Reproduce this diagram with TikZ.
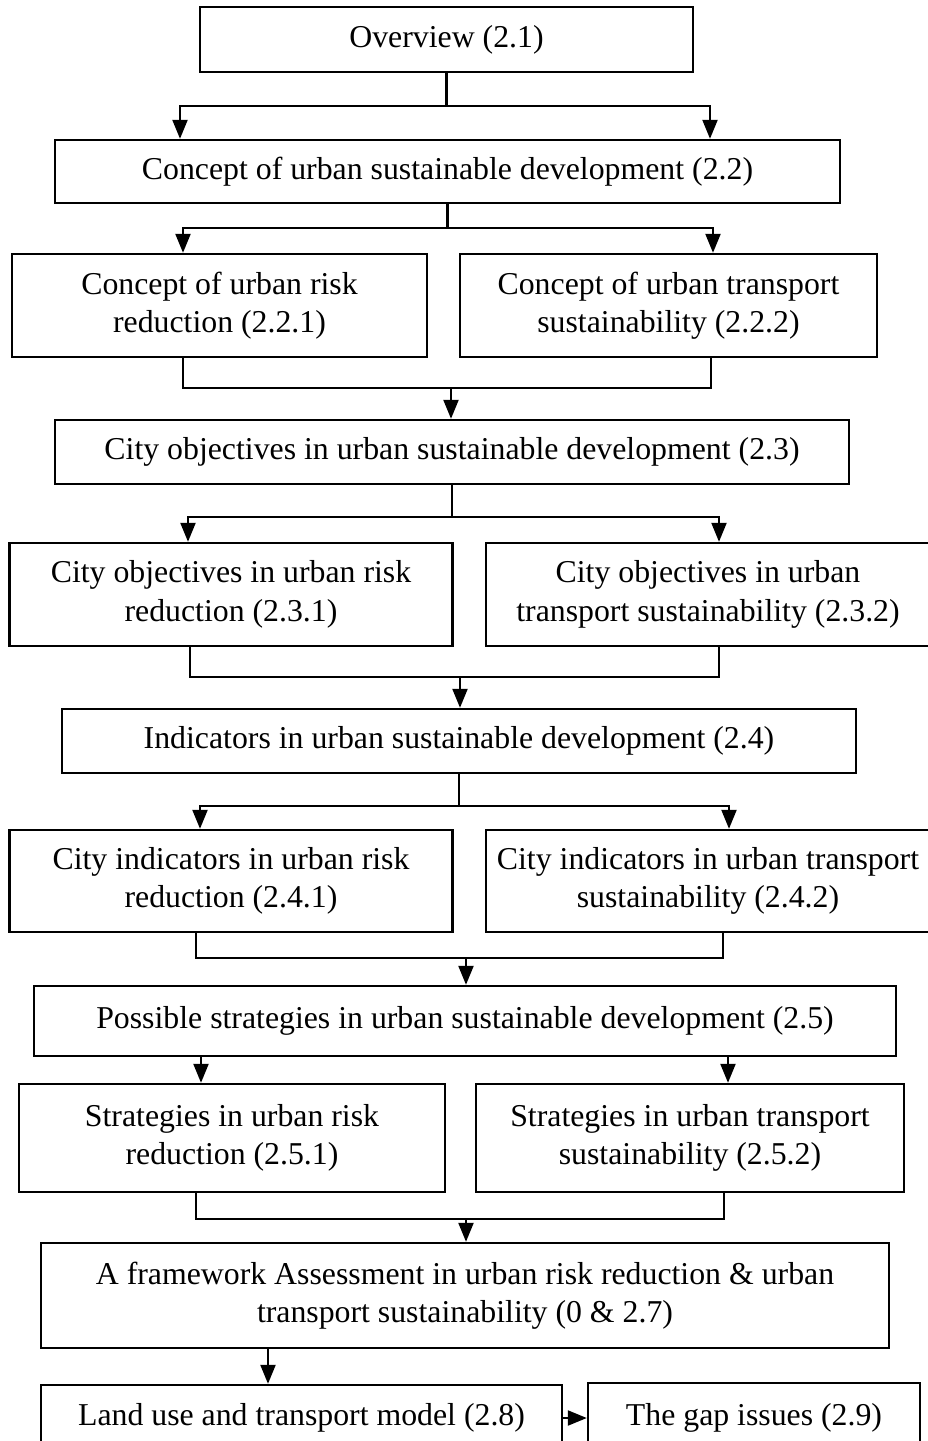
\documentclass[tikz,border=0pt]{standalone}
\usepackage{fontspec}
\setmainfont{Liberation Serif}
\usetikzlibrary{arrows.meta}

\begin{document}
\begin{tikzpicture}[x=1pt,y=-1pt,
  box/.style={draw, line width=2.4pt, rectangle, inner sep=0pt, align=center,
    font=\fontsize{31.8}{38.5}\selectfont},
  link/.style={line width=2.2pt},
  arr/.style={link, -{Triangle[length=19pt,width=15pt]}}]

\useasboundingbox (0,0) rectangle (928,1441);
\clip (0,0) rectangle (928,1441);
\fill[white] (0,0) rectangle (928,1441);

% chapter sections
\node[box, minimum width=493, minimum height=65] (ov) at (446.5,39.5) {Overview (2.1)};
\node[box, minimum width=785, minimum height=63] (usd) at (447.5,171.5) {Concept of urban sustainable development (2.2)};
\node[box, minimum width=415, minimum height=103] (cr) at (219.5,305.5) {Concept of urban risk\\reduction (2.2.1)};
\node[box, minimum width=417, minimum height=103] (ct) at (668.5,305.5) {Concept of urban transport\\sustainability (2.2.2)};
\node[box, minimum width=794, minimum height=64] (obj) at (452,452) {City objectives in urban sustainable development (2.3)};
\node[box, minimum width=443, minimum height=103] (or) at (231,594.5) {City objectives in urban risk\\reduction (2.3.1)};
\node[box, minimum width=444, minimum height=103] (ot) at (708,594.5) {City objectives in urban\\transport sustainability (2.3.2)};
\node[box, minimum width=794, minimum height=64] (ind) at (459,741) {Indicators in urban sustainable development (2.4)};
\node[box, minimum width=443, minimum height=102] (ir) at (231,881) {City indicators in urban risk\\reduction (2.4.1)};
\node[box, minimum width=444, minimum height=102] (it) at (708,881) {City indicators in urban transport\\sustainability (2.4.2)};
\node[box, minimum width=862, minimum height=70] (str) at (465,1021) {Possible strategies in urban sustainable development (2.5)};
\node[box, minimum width=426, minimum height=108] (sr) at (232,1138) {Strategies in urban risk\\reduction (2.5.1)};
\node[box, minimum width=428, minimum height=108] (st) at (690,1138) {Strategies in urban transport\\sustainability (2.5.2)};
\node[box, minimum width=848, minimum height=105] (fw) at (465,1295.5) {A framework Assessment in urban risk reduction \& urban\\transport sustainability (0 \& 2.7)};
\node[box, minimum width=521, minimum height=66] (lu) at (301.5,1418) {Land use and transport model (2.8)};
\node[box, minimum width=332, minimum height=70] (gap) at (754,1418) {The gap issues (2.9)};

% junction points
\coordinate (a1) at (180,106);  \coordinate (a2) at (710,106);
\coordinate (b1) at (183,228);  \coordinate (b2) at (713,228);
\coordinate (c1) at (183,388);  \coordinate (c2) at (711,388);  \coordinate (cm) at (451,388);
\coordinate (d1) at (188,517);  \coordinate (d2) at (719,517);
\coordinate (e1) at (190,677);  \coordinate (e2) at (719,677);  \coordinate (em) at (460,677);
\coordinate (f1) at (200,806);  \coordinate (f2) at (729,806);
\coordinate (g1) at (196,958);  \coordinate (g2) at (723,958);  \coordinate (gm) at (466,958);
\coordinate (h1) at (201,1056); \coordinate (h2) at (728,1056);
\coordinate (k1) at (196,1219); \coordinate (k2) at (724,1219); \coordinate (km) at (466,1219);
\coordinate (l1) at (268,1348);

% overview -> concept
\draw[arr] (ov.south) |- (a1) -- (a1 |- usd.north);
\draw[arr] (ov.south) |- (a2) -- (a2 |- usd.north);
% concept -> sub-concepts
\draw[arr] (usd.south) |- (b1) -- (b1 |- cr.north);
\draw[arr] (usd.south) |- (b2) -- (b2 |- ct.north);
% sub-concepts -> objectives
\draw[link] (c1 |- cr.south) -- (c1) -- (c2) -- (c2 |- ct.south);
\draw[arr] (cm) -- (cm |- obj.north);
% objectives -> sub-objectives
\draw[arr] (obj.south) |- (d1) -- (d1 |- or.north);
\draw[arr] (obj.south) |- (d2) -- (d2 |- ot.north);
% sub-objectives -> indicators
\draw[link] (e1 |- or.south) -- (e1) -- (e2) -- (e2 |- ot.south);
\draw[arr] (em) -- (em |- ind.north);
% indicators -> sub-indicators
\draw[arr] (ind.south) |- (f1) -- (f1 |- ir.north);
\draw[arr] (ind.south) |- (f2) -- (f2 |- it.north);
% sub-indicators -> strategies
\draw[link] (g1 |- ir.south) -- (g1) -- (g2) -- (g2 |- it.south);
\draw[arr] (gm) -- (gm |- str.north);
% strategies -> sub-strategies
\draw[arr] (h1) -- (h1 |- sr.north);
\draw[arr] (h2) -- (h2 |- st.north);
% sub-strategies -> framework
\draw[link] (k1 |- sr.south) -- (k1) -- (k2) -- (k2 |- st.south);
\draw[arr] (km) -- (km |- fw.north);
% framework -> model -> gap
\draw[arr] (l1) -- (l1 |- lu.north);
\draw[arr] (lu.east) -- (gap.west |- lu.east);
\end{tikzpicture}
\end{document}
